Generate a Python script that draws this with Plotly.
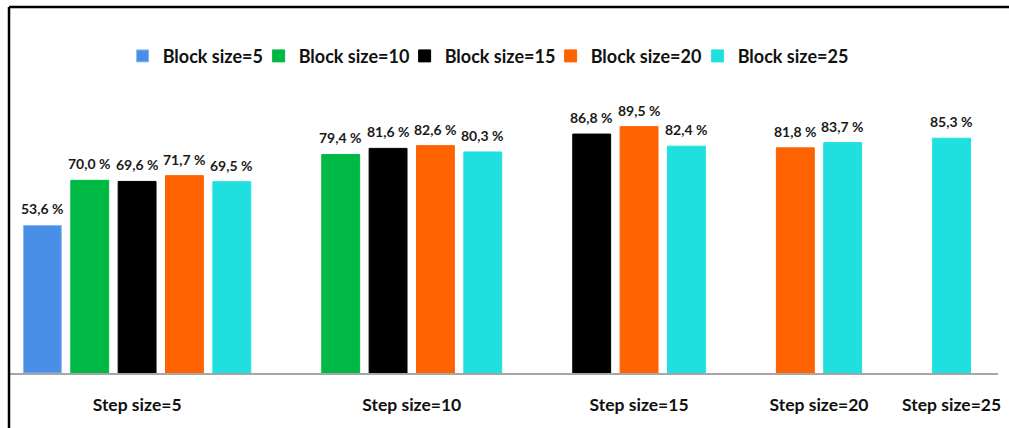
import plotly.graph_objects as go

steps = ["Step size=5", "Step size=10", "Step size=15", "Step size=20", "Step size=25"]
series_names = ["Block size=5", "Block size=10", "Block size=15", "Block size=20", "Block size=25"]
block5 = [53.6, None, None, None, None]
block10 = [70.0, 79.4, None, None, None]
block15 = [69.6, 81.6, 86.8, None, None]
block20 = [71.7, 82.6, 89.5, 81.8, None]
block25 = [69.5, 80.3, 82.4, 83.7, 85.3]
series_values = [block5, block10, block15, block20, block25]
colors = ["#4A8FE7", "#00B945", "#000000", "#FF6200", "#20E0DF"]
line_colors = ["#8DB8F0", "#00B945", "#000000", "#FF6200", "#20E0DF"]
legend_widths = [91, 101, 101, 102, None]

GAP = 2.3  # spacing (in bar slots) between neighbouring groups
FONT = "Lato"

# compute slot positions per group: bars present are packed together
positions = {}
centers = []
start = 0.0
for g in range(len(steps)):
    present = [s for s in range(len(series_values)) if series_values[s][g] is not None]
    for k, s in enumerate(present):
        positions[(s, g)] = start + k
    centers.append(start + (len(present) - 1) / 2)
    start = start + (len(present) - 1) + GAP

fig = go.Figure()
annotations = []
for s, (name, vals) in enumerate(zip(series_names, series_values)):
    xs, ys = [], []
    for g, v in enumerate(vals):
        if v is None:
            continue
        xs.append(positions[(s, g)])
        ys.append(v)
        annotations.append(dict(
            x=positions[(s, g)], y=v, xref="x", yref="y",
            text=f"{v:.1f}".replace(".", ",") + " %",
            showarrow=False, yanchor="bottom", yshift=6,
            font=dict(family=FONT, size=14, color="#1a1a1a", weight="bold"),
        ))
    bar = go.Bar(
        x=xs, y=ys, name=name, width=0.8,
        marker=dict(color=colors[s], line=dict(color=line_colors[s], width=1)),
    )
    if legend_widths[s] is not None:
        bar.legendwidth = legend_widths[s]
    fig.add_trace(bar)

# outer frame: only the top and left edges are inside the picture
fig.add_shape(type="line", xref="paper", yref="paper",
              x0=-0.001, x1=1.02, y0=1.003, y1=1.003,
              line=dict(color="#000000", width=2.5), layer="above")
fig.add_shape(type="line", xref="paper", yref="paper",
              x0=-0.001, x1=-0.001, y0=-0.3, y1=1.003,
              line=dict(color="#000000", width=2.5), layer="above")

fig.update_layout(
    width=1009, height=428,
    margin=dict(l=10, r=8, t=8, b=55),
    paper_bgcolor="white", plot_bgcolor="white",
    barmode="overlay",
    showlegend=True,
    legend=dict(orientation="h", x=0.114, xanchor="left", y=0.868, yanchor="middle",
                font=dict(family=FONT, size=18, color="#111111", weight="bold"),
                bgcolor="rgba(0,0,0,0)", itemwidth=30, traceorder="normal"),
    annotations=annotations,
    xaxis=dict(range=[-0.684, 20.18], tickvals=centers, ticktext=steps,
               showgrid=False, zeroline=False, showline=True,
               linecolor="#A6A6A6", linewidth=1.5, ticks="",
               ticklabelstandoff=15,
               tickfont=dict(family=FONT, size=17.5, color="#111111", weight="bold")),
    yaxis=dict(range=[0, 132.6], visible=False, showgrid=False, zeroline=False),
)

fig.write_html("out.html", config={"displayModeBar": False},
               post_script="document.body.style.margin='0px';")
